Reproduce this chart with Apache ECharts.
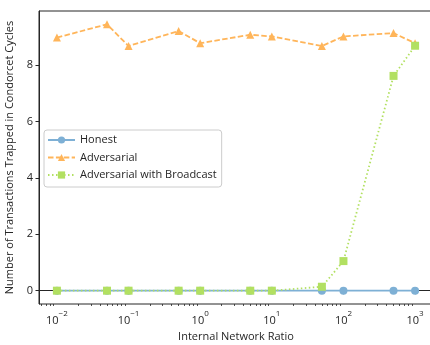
<!DOCTYPE html>
<html>
<head>
<meta charset="utf-8">
<script src="https://cdn.jsdelivr.net/npm/echarts@6/dist/echarts.min.js"></script>
<style>
  html, body { margin: 0; padding: 0; background: #fff; }
  #chart { width: 430px; height: 345px; }
</style>
</head>
<body>
<div id="chart"></div>
<script>
// Internal network ratio (x) and transactions trapped in Condorcet cycles (y)
const ratios = [0.01, 0.05, 0.1, 0.5, 1, 5, 10, 50, 100, 500, 1000];
const honest = [0, 0, 0, 0, 0, 0, 0, 0, 0, 0, 0];
const adversarial = [8.98, 9.45, 8.68, 9.21, 8.78, 9.08, 9.02, 8.68, 9.02, 9.14, 8.78];
const broadcast = [0, 0, 0, 0, 0, 0, 0, 0.14, 1.05, 7.62, 8.69];

const xMajorTicks = [0.01, 0.1, 1, 10, 100, 1000];
const yTicks = [0, 2, 4, 6, 8];

const FONT = '"Open Sans", "Noto Sans", sans-serif';
const INK = '#262626';
const COLORS = { honest: '#7eb0d5', adversarial: '#ffb55a', broadcast: '#b2e061' };

// 5% padding around the data range (in log space for x)
const lx0 = Math.log10(Math.min(...ratios)), lx1 = Math.log10(Math.max(...ratios));
const xMin = Math.pow(10, lx0 - 0.05 * (lx1 - lx0));
const xMax = Math.pow(10, lx1 + 0.05 * (lx1 - lx0));
const allY = honest.concat(adversarial, broadcast);
const y0 = Math.min(...allY), y1 = Math.max(...allY);
const yMin = y0 - 0.05 * (y1 - y0);
const yMax = y1 + 0.05 * (y1 - y0);

// minor ticks at 2..9 × 10^k inside the visible range
const xMinorTicks = [];
for (let k = -3; k <= 3; k++) {
  for (let m = 2; m <= 9; m++) {
    const v = m * Math.pow(10, k);
    if (v > xMin && v < xMax) xMinorTicks.push(+v.toPrecision(3));
  }
}

const pairs = ys => ratios.map((x, i) => [x, ys[i]]);

const chart = echarts.init(document.getElementById('chart'), null, { renderer: 'canvas' });
chart.setOption({
  animation: false,
  backgroundColor: '#fff',
  textStyle: { fontFamily: FONT },
  grid: {
    left: 39, top: 11, right: -3, bottom: 41,
    outerBoundsMode: 'none', containLabel: false,
    show: true, borderColor: INK, borderWidth: 1, backgroundColor: 'transparent'
  },
  legend: {
    orient: 'vertical',
    left: 44, top: 130,
    padding: [3, 5, 5, 3],
    itemGap: 3.5,
    itemWidth: 27, itemHeight: 9,
    backgroundColor: 'rgba(255,255,255,0.8)',
    borderColor: '#cccccc', borderWidth: 1, borderRadius: 3,
    textStyle: { fontFamily: FONT, fontSize: 11, color: INK, lineHeight: 14 },
    data: ['Honest', 'Adversarial', 'Adversarial with Broadcast']
  },
  xAxis: [{
    type: 'log', logBase: 10, min: xMin, max: xMax,
    name: 'Internal Network Ratio', nameLocation: 'middle', nameGap: 26,
    nameTextStyle: { fontFamily: FONT, fontSize: 11, color: INK },
    axisLine: { show: true, lineStyle: { color: INK, width: 1 } },
    axisTick: { show: true, inside: false, length: 3.5, customValues: xMajorTicks, lineStyle: { color: INK, width: 1 } },
    axisLabel: {
      customValues: xMajorTicks, margin: 6, color: INK,
      formatter: v => {
        const e = Math.round(Math.log10(v));
        return '{b|10}{s|' + (e < 0 ? '\u2212' + (-e) : e) + '}';
      },
      rich: {
        b: { fontFamily: FONT, fontSize: 11, color: INK, verticalAlign: 'bottom', lineHeight: 16 },
        s: { fontFamily: FONT, fontSize: 8, color: INK, verticalAlign: 'top', lineHeight: 16 }
      }
    },
    splitLine: { show: false }
  }, {
    type: 'log', logBase: 10, min: xMin, max: xMax, position: 'bottom',
    axisLine: { show: false },
    axisTick: { show: true, inside: false, length: 2, customValues: xMinorTicks, lineStyle: { color: INK, width: 0.8 } },
    axisLabel: { show: false },
    splitLine: { show: false }
  }],
  yAxis: {
    type: 'value', min: yMin, max: yMax,
    name: 'Number of Transactions Trapped in Condorcet Cycles',
    nameLocation: 'middle', nameGap: 20,
    nameTextStyle: { fontFamily: FONT, fontSize: 11, color: INK },
    axisLine: { show: true, lineStyle: { color: INK, width: 1 } },
    axisTick: { show: true, inside: false, length: 3.5, customValues: yTicks, lineStyle: { color: INK, width: 1 } },
    axisLabel: { customValues: yTicks, margin: 6, fontFamily: FONT, fontSize: 11, color: INK },
    splitLine: { show: false }
  },
  series: [{
    name: 'Honest', type: 'line', data: pairs(honest),
    symbol: 'circle', symbolSize: 8, showAllSymbol: true,
    lineStyle: { color: COLORS.honest, width: 1.8 },
    itemStyle: { color: COLORS.honest }, z: 2
  }, {
    name: 'Adversarial', type: 'line', data: pairs(adversarial),
    symbol: 'triangle', symbolSize: 8, showAllSymbol: true,
    lineStyle: { color: COLORS.adversarial, width: 1.8, type: [5.5, 2.4] },
    itemStyle: { color: COLORS.adversarial }, z: 3
  }, {
    name: 'Adversarial with Broadcast', type: 'line', data: pairs(broadcast),
    symbol: 'rect', symbolSize: 8, showAllSymbol: true,
    lineStyle: { color: COLORS.broadcast, width: 1.8, type: [1.5, 2.5] },
    itemStyle: { color: COLORS.broadcast }, z: 4
  }]
});
</script>
</body>
</html>
